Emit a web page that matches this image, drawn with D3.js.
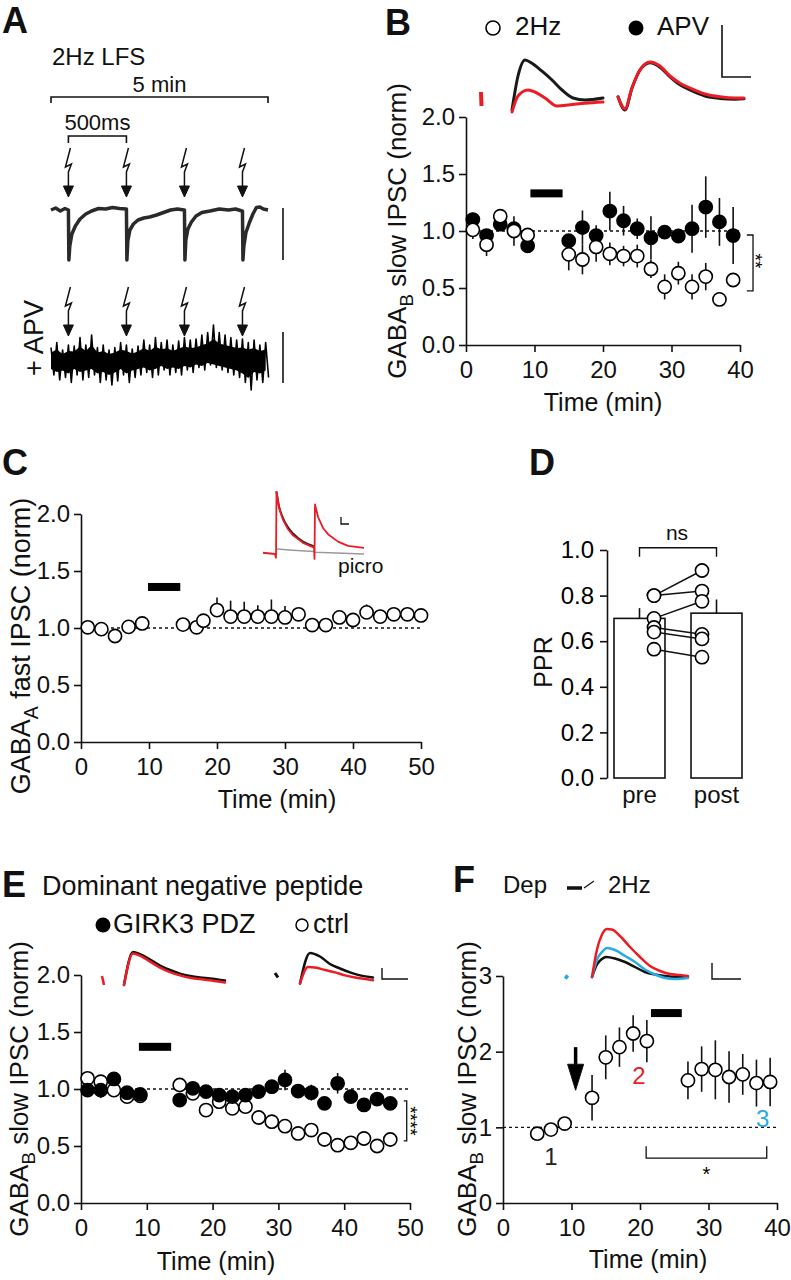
<!DOCTYPE html>
<html><head><meta charset="utf-8">
<script src="https://cdn.jsdelivr.net/npm/d3@7"></script>
<style>body{margin:0;background:#fff}svg{display:block}</style>
</head><body><svg id="c" width="791" height="1280"></svg>
<script>
// ---------- DATA ----------
// Panel A (example traces; time in s, current in norm units)
const aStim = [0, 0.5, 1.0, 1.5];
const aTrace = [[-0.15,0.0],[-0.11,0.04],[-0.07,-0.02],[-0.03,0.03],[0.0,0.0],[0.004,-1.0],[0.012,-0.72],[0.03,-0.48],[0.06,-0.32],[0.1,-0.18],[0.15,-0.08],[0.2,-0.02],[0.26,0.03],[0.32,0.02],[0.38,0.05],[0.44,0.03],[0.497,0.02],[0.5,0.02],[0.504,-1.0],[0.512,-0.62],[0.53,-0.4],[0.56,-0.28],[0.6,-0.2],[0.65,-0.16],[0.7,-0.14],[0.76,-0.1],[0.82,-0.05],[0.88,0.0],[0.94,0.02],[0.997,0.0],[1.0,0.0],[1.004,-1.0],[1.012,-0.6],[1.03,-0.38],[1.06,-0.24],[1.1,-0.12],[1.15,-0.05],[1.22,-0.02],[1.3,0.02],[1.38,0.0],[1.44,0.02],[1.497,-0.02],[1.5,-0.02],[1.504,-1.0],[1.512,-0.72],[1.53,-0.45],[1.56,-0.25],[1.59,-0.08],[1.62,0.05],[1.65,0.06],[1.68,0.02],[1.72,0.0]];
const aApvT  = [-0.15,-0.10,-0.05,0.00,0.05,0.10,0.15,0.20,0.25,0.30,0.35,0.40,0.45,0.50,0.55,0.60,0.65,0.70,0.75,0.80,0.85,0.90,0.95,1.00,1.05,1.10,1.15,1.20,1.25,1.30,1.35,1.40,1.45,1.50,1.55,1.60,1.65,1.70];
const aApvHi = [0.25,0.35,0.2,0.3,0.28,0.45,0.3,0.5,0.25,0.3,0.2,0.25,0.35,0.3,0.22,0.28,0.4,0.3,0.45,0.35,0.4,0.3,0.38,0.45,0.4,0.42,0.5,0.55,0.7,0.55,0.5,0.45,0.4,0.42,0.35,0.4,0.3,0.35];
const aApvLo = [-0.3,-0.4,-0.35,-0.45,-0.3,-0.4,-0.35,-0.3,-0.45,-0.4,-0.5,-0.42,-0.3,-0.45,-0.35,-0.3,-0.25,-0.35,-0.3,-0.2,-0.3,-0.25,-0.3,-0.2,-0.25,-0.15,-0.2,-0.1,-0.15,-0.2,-0.25,-0.3,-0.35,-0.45,-0.6,-0.4,-0.45,-0.35];

// Panel B
const bTime = [1,3,5,7,9,15,17,19,21,23,25,27,29,31,33,35,37,39];
const bApv = [1.10,0.96,1.06,1.02,0.87,0.915,1.03,0.96,1.175,1.09,1.02,0.94,0.99,0.956,1.02,1.21,1.08,0.96];
const bApvErr = [0.06,0.03,0.03,0.05,0.03,0.04,0.15,0.09,0.17,0.13,0.09,0.19,0.05,0.05,0.21,0.27,0.21,0.25];
const b2Hz = [1.01,0.88,1.13,1.0,0.965,0.795,0.75,0.86,0.80,0.78,0.78,0.667,0.51,0.63,0.51,0.60,0.40,0.57];
const b2HzErr = [0.08,0.1,0.03,0.13,0.03,0.14,0.13,0.13,0.10,0.09,0.1,0.08,0.11,0.1,0.11,0.12,0.03,0.04];
const bBar = [9.4, 14.1, 1.33];
const bXTicks = [0,10,20,30,40];
const bYTicks = [0,0.5,1,1.5,2];
const bSig = [41.9, 41.0, 0.965, 0.474];
const bInsetBlack1 = [[42,-0.25],[48,0.6],[55,1.0],[62,0.92],[72,0.72],[82,0.5],[92,0.25],[103,0.05],[115,0.0],[133,0.05]];
const bInsetRed1 = [[42,-0.3],[48,0.1],[58,0.25],[65,0.2],[75,0.05],[87,-0.15],[100,-0.12],[115,-0.08],[133,-0.05]];
const bInsetRedBlob = [[11,0.2],[11.5,-0.15]];
const bInsetBlack2 = [[148,0.08],[155,-0.25],[162,0.3],[170,0.75],[180,0.93],[190,0.82],[200,0.58],[210,0.38],[220,0.25],[235,0.1],[250,0.04],[265,0.02],[274,0.03]];
const bInsetRed2 = [[148,0.08],[155,-0.22],[162,0.3],[170,0.75],[180,0.95],[190,0.85],[200,0.6],[210,0.42],[220,0.3],[235,0.15],[250,0.08],[265,0.05],[274,0.05]];

// Panel C
const cTime = [1,3,5,7,9,15,17,18,20,22,24,26,28,30,32,34,36,38,40,42,44,46,48,50];
const cVal = [1.006,0.99,0.93,1.01,1.04,1.03,1.006,1.064,1.157,1.10,1.10,1.10,1.10,1.093,1.12,1.026,1.026,1.093,1.07,1.137,1.10,1.12,1.12,1.11];
const cErr = [0.02,0.02,0.02,0.02,0.02,0.02,0.03,0.03,0.11,0.14,0.13,0.10,0.15,0.10,0.03,0.02,0.02,0.03,0.03,0.07,0.06,0.03,0.03,0.03];
const cBar = [9.85, 14.6, 1.36];
const cXTicks = [0,10,20,30,40,50];
const cYTicks = [0,0.5,1,1.5,2];
const cInsetRed = [[0,0.02],[12,0.0],[13,-0.06],[13.5,1.0],[16,0.75],[20,0.55],[25,0.4],[30,0.3],[40,0.18],[50,0.11],[51,0.1],[51.5,-0.08],[52,0.8],[55,0.6],[60,0.42],[65,0.32],[75,0.2],[85,0.13],[101,0.1]];
const cInsetBlack = [[13.5,1.0],[16,0.77],[20,0.58],[25,0.43],[30,0.33],[40,0.2],[50,0.13]];
const cInsetGrey = [[14,0.08],[30,0.06],[51,0.04],[52,0.03],[101,0.0]];

// Panel D
const dCats = ["pre","post"];
const dMean = [0.70, 0.723];
const dErr = [0.045, 0.06];
const dPre = [0.80,0.80,0.70,0.66,0.64,0.565];
const dPost = [0.91,0.82,0.775,0.63,0.61,0.53];
const dYTicks = [0,0.2,0.4,0.6,0.8,1.0];

// Panel E
const eTime = [1,3,5,7,9,15,17,19,21,23,25,27,29,31,33,35,37,39,41,43,45,47];
const eGirk = [0.99,0.99,1.088,0.968,0.953,0.903,1.006,0.977,0.947,0.933,0.947,0.977,1.02,1.079,0.982,0.968,0.874,1.05,0.933,0.86,0.912,0.874];
const eGirkErr = [0.04,0.07,0.03,0.03,0.03,0.02,0.04,0.05,0.03,0.03,0.03,0.02,0.02,0.09,0.03,0.07,0.02,0.09,0.03,0.06,0.03,0.02];
const eCtrl = [1.094,1.064,0.99,0.933,0.94,1.035,0.962,0.815,0.889,0.83,0.845,0.75,0.713,0.674,0.61,0.64,0.557,0.507,0.528,0.566,0.50,0.557];
const eCtrlErr = [0.03,0.04,0.02,0.02,0.02,0.02,0.02,0.02,0.02,0.02,0.02,0.02,0.02,0.02,0.02,0.02,0.02,0.02,0.02,0.02,0.02,0.02];
const eBar = [8.8, 13.7, 1.37];
const eXTicks = [0,10,20,30,40,50];
const eYTicks = [0,0.5,1,1.5,2];
const eSig = [49.5, 49.05, 0.895, 0.545];
const eInsetBlack1 = [[24,-0.1],[33,1.0],[40,0.93],[50,0.75],[60,0.55],[70,0.4],[80,0.28],[90,0.2],[100,0.15],[110,0.12],[125,0.05]];
const eInsetRed1 = [[24,-0.1],[33,0.95],[40,0.88],[50,0.68],[60,0.48],[70,0.33],[80,0.22],[90,0.14],[100,0.1],[110,0.06],[125,-0.02]];
const eInsetBlob1 = [[2,0.2],[4,-0.1]];
const eInsetBlack2 = [[200,-0.05],[210,0.97],[220,0.85],[230,0.6],[240,0.45],[250,0.32],[260,0.22],[273,0.15]];
const eInsetRed2 = [[200,-0.05],[208,0.5],[215,0.48],[225,0.4],[235,0.32],[245,0.22],[255,0.15],[265,0.1],[273,0.06]];
const eInsetBlob2 = [[175,0.3],[178,0.15]];

// Panel F
const fTime = [5,7,9,13,15,17,19,21,27,29,31,33,35,37,39];
const fVal = [0.916,0.97,1.05,1.39,1.925,2.06,2.24,2.14,1.62,1.77,1.76,1.665,1.70,1.585,1.60];
const fErr = [0.02,0.02,0.02,0.3,0.29,0.26,0.24,0.28,0.25,0.3,0.39,0.34,0.27,0.31,0.32];
const fBar = [21.6, 26.1, 2.51];
const fXTicks = [0,10,20,30,40];
const fYTicks = [0,1,2,3];
const fArrow = [10.6, 2.06, 1.49];
const fSig = [20.9, 38.5, 0.594, 0.75];
const fMarks = [["1",7.0,0.5,"#222"],["2",19.85,1.57,"#e31e24"],["3",37.9,1.0,"#29abe2"]];
const fInsetBlack = [[32,0],[37,0.25],[42,0.36],[46,0.4],[55,0.37],[65,0.3],[75,0.2],[85,0.1],[95,0.05],[105,0.02],[115,0.0],[128,0.0]];
const fInsetCyan = [[32,0],[37,0.35],[42,0.5],[47,0.58],[55,0.54],[65,0.42],[75,0.3],[85,0.15],[95,0.05],[105,-0.02],[115,-0.04],[128,-0.02]];
const fInsetRed = [[32,0],[37,0.55],[42,0.85],[47,0.96],[52,0.95],[60,0.82],[70,0.6],[80,0.4],[90,0.22],[100,0.12],[110,0.06],[120,0.04],[128,0.02]];
const fInsetBlob = [[5,0.02],[8,-0.02]];

// ---------- DRAWING ----------
const FONT = "'Liberation Sans', Arial, Helvetica, sans-serif";
const RED = "#ec1c24", CYAN = "#29abe2";
const svg = d3.select("#c").attr("font-family", FONT);

function text(x, y, s, size, opts = {}) {
  const t = svg.append("text").attr("x", x).attr("y", y).attr("font-size", size)
    .attr("fill", opts.fill || "#111").text(s);
  if (opts.anchor) t.attr("text-anchor", opts.anchor);
  if (opts.bold) t.attr("font-weight", "bold");
  if (opts.rot !== undefined) t.attr("x", 0).attr("y", 0).attr("transform", `translate(${x},${y}) rotate(${opts.rot})`);
  return t;
}
function yTitle(x, cy, main, sub, rest, size) {
  const t = svg.append("text").attr("transform", `translate(${x},${cy}) rotate(-90)`)
    .attr("text-anchor", "middle").attr("font-size", size).attr("fill", "#111");
  t.append("tspan").text(main);
  if (sub) {
    t.append("tspan").attr("font-size", size * 0.72).attr("dy", size * 0.28).text(sub);
    t.append("tspan").attr("dy", -size * 0.28).text(rest);
  }
  return t;
}
function axes(x, y, xt, yt, xf, yf) {
  const gx = svg.append("g").attr("transform", `translate(0,${y.range()[0]})`)
    .call(d3.axisBottom(x).tickValues(xt).tickSize(7).tickSizeOuter(0).tickPadding(9).tickFormat(d3.format(xf)));
  const gy = svg.append("g").attr("transform", `translate(${x.range()[0]},0)`)
    .call(d3.axisLeft(y).tickValues(yt).tickSize(7).tickSizeOuter(0).tickPadding(4).tickFormat(d3.format(yf)));
  [gx, gy].forEach(g => {
    g.attr("font-size", 24).attr("font-family", FONT);
    g.selectAll("path,line").attr("stroke", "#111").attr("stroke-width", 1.6);
    g.selectAll("text").attr("fill", "#111");
  });
}
function dotted(x, y, level) {
  svg.append("line").attr("x1", x.range()[0]).attr("x2", x.range()[1])
    .attr("y1", y(level)).attr("y2", y(level)).attr("stroke", "#111")
    .attr("stroke-width", 1.4).attr("stroke-dasharray", "3,3");
}
function stimBar(x, y, b) {
  svg.append("rect").attr("x", x(b[0])).attr("width", x(b[1]) - x(b[0]))
    .attr("y", y(b[2]) - 4).attr("height", 8).attr("fill", "#000");
}
function errBars(x, y, xs, vs, es, upOnly) {
  svg.append("g").selectAll("line").data(xs).join("line")
    .attr("x1", d => x(d)).attr("x2", d => x(d))
    .attr("y1", (d, i) => y(upOnly ? vs[i] : vs[i] - es[i]))
    .attr("y2", (d, i) => y(vs[i] + es[i]))
    .attr("stroke", "#111").attr("stroke-width", 1.6);
}
function dots(x, y, xs, vs, filled, r = 6.6) {
  svg.append("g").selectAll("circle").data(xs).join("circle")
    .attr("cx", d => x(d)).attr("cy", (d, i) => y(vs[i])).attr("r", r)
    .attr("fill", filled ? "#000" : "#fff").attr("stroke", "#000").attr("stroke-width", 1.6);
}
function trace(x, y, pts, color, w) {
  svg.append("path").attr("d", d3.line().x(d => x(d[0])).y(d => y(d[1])).curve(d3.curveMonotoneX)(pts))
    .attr("fill", "none").attr("stroke", color).attr("stroke-width", w)
    .attr("stroke-linejoin", "round").attr("stroke-linecap", "round");
}
function traceLin(x, y, pts, color, w) {
  svg.append("path").attr("d", d3.line().x(d => x(d[0])).y(d => y(d[1]))(pts))
    .attr("fill", "none").attr("stroke", color).attr("stroke-width", w).attr("stroke-linejoin", "round");
}
function path(d, w = 1.6, fill = "none") {
  svg.append("path").attr("d", d).attr("stroke", "#111").attr("stroke-width", w).attr("fill", fill);
}
// rotated asterisk string: glyph centre lands at (cx, cy)
function stars(cx, cy, s, size) {
  svg.append("text").attr("transform", `translate(${cx - size * 0.575},${cy}) rotate(90)`)
    .attr("text-anchor", "middle").attr("font-size", size).attr("fill", "#000").text(s);
}

// ===== Panel A =====
text(2, 33, "A", 36, { bold: true });
text(52, 65, "2Hz LFS", 24);
const ax = d3.scaleLinear([-0.15, 1.72], [51, 268]);
const ayTop = d3.scaleLinear([-1, 0], [260, 210]);
const ayApv = d3.scaleLinear([-1, 0], [410, 360]);
text((ax(-0.15) + ax(1.72)) / 2, 92, "5 min", 22, { anchor: "middle" });
path(`M${ax(-0.15)},103V97H${ax(1.72)}V103`);
text((ax(aStim[0]) + ax(aStim[1])) / 2, 130, "500ms", 22, { anchor: "middle" });
path(`M${ax(aStim[0])},143V136H${ax(aStim[1])}V143`);
function bolt(x, top) {
  path(`M${x + 2},${top}L${x - 3},${top + 19}L${x + 3},${top + 16}L${x},${top + 24}V${top + 39}`, 1.5);
  path(`M${x - 5},${top + 38}L${x + 5},${top + 38}L${x},${top + 49}Z`, 1, "#111");
}
aStim.forEach(s => { bolt(ax(s), 148); bolt(ax(s), 287); });
traceLin(ax, ayTop, aTrace, "#2a2a2a", 3.5);
svg.append("path").attr("d", d3.area().x((d, i) => ax(aApvT[i]))
    .y0((d, i) => ayApv(aApvLo[i] * 0.6)).y1((d, i) => ayApv(aApvHi[i] * 0.6))(aApvT))
  .attr("fill", "#000");
const zig = [];
aApvT.forEach((t, i) => { zig.push([t, aApvHi[i]]); zig.push([t + 0.025, aApvLo[i]]); });
traceLin(ax, ayApv, zig, "#000", 1.6);
path("M283,208V260");
path("M283,332V383");
text(43, 338, "+ APV", 27, { anchor: "middle", rot: -90 });

// ===== Panel B =====
text(385, 35, "B", 36, { bold: true });
svg.append("circle").attr("cx", 493).attr("cy", 28).attr("r", 7).attr("fill", "#fff").attr("stroke", "#000").attr("stroke-width", 1.6);
text(515, 35, "2Hz", 26);
svg.append("circle").attr("cx", 636).attr("cy", 28).attr("r", 7.5).attr("fill", "#000");
text(657, 35, "APV", 26);
const bix = d3.scaleLinear([0, 300], [470, 770]);
const biy = d3.scaleLinear([0, 1], [100, 60]);
trace(bix, biy, bInsetBlack1, "#1a1a1a", 3);
trace(bix, biy, bInsetRed1, RED, 3);
traceLin(bix, biy, bInsetRedBlob, RED, 4);
trace(bix, biy, bInsetBlack2, "#1a1a1a", 3);
trace(bix, biy, bInsetRed2, RED, 3);
path("M722,25V77H751");

const xB = d3.scaleLinear([0, 40], [466, 740]);
const yB = d3.scaleLinear([0, 2], [345, 117]);
axes(xB, yB, bXTicks, bYTicks, "d", ".1f");
dotted(xB, yB, 1);
stimBar(xB, yB, bBar);
errBars(xB, yB, bTime, bApv, bApvErr, false);
errBars(xB, yB, bTime, b2Hz, b2HzErr, false);
dots(xB, yB, bTime, bApv, true);
dots(xB, yB, bTime, b2Hz, false);
path(`M${xB(bSig[1])},${yB(bSig[2])}H${xB(bSig[0])}V${yB(bSig[3])}H${xB(bSig[1])}`, 1.3);
stars(xB(bSig[0]) + 7, (yB(bSig[2]) + yB(bSig[3])) / 2 - 2, "**", 19);
yTitle(406, 231, "GABA", "B", " slow IPSC (norm)", 26);
text(603, 411, "Time (min)", 25, { anchor: "middle" });

// ===== Panel C =====
text(2, 475, "C", 36, { bold: true });
const cix = d3.scaleLinear([0, 101], [263, 364]);
const ciy = d3.scaleLinear([0, 1], [554, 492]);
traceLin(cix, ciy, cInsetGrey, "#9a9a9a", 1.5);
trace(cix, ciy, cInsetBlack, "#222", 2);
traceLin(cix, ciy, cInsetRed, RED, 1.8);
path("M341,517V524H349", 1.3);
text(338, 573, "picro", 21);
const xC = d3.scaleLinear([0, 50], [81, 421]);
const yC = d3.scaleLinear([0, 2], [742, 514]);
axes(xC, yC, cXTicks, cYTicks, "d", ".1f");
dotted(xC, yC, 1);
stimBar(xC, yC, cBar);
errBars(xC, yC, cTime, cVal, cErr, true);
dots(xC, yC, cTime, cVal, false);
yTitle(30, 646, "GABA", "A", " fast IPSC (norm)", 27);
text(277, 808, "Time (min)", 25, { anchor: "middle" });

// ===== Panel D =====
text(529, 475, "D", 36, { bold: true });
const xD = d3.scaleBand(dCats, [607, 749]).paddingInner(0.338).paddingOuter(0.091);
const yD = d3.scaleLinear([0, 1], [778, 550]);
const gyD = svg.append("g").attr("transform", "translate(607,0)")
  .call(d3.axisLeft(yD).tickValues(dYTicks).tickSize(7).tickSizeOuter(0).tickPadding(6).tickFormat(d3.format(".1f")));
gyD.attr("font-size", 24).attr("font-family", FONT);
gyD.selectAll("path,line").attr("stroke", "#111").attr("stroke-width", 1.6);
const cxD = c => xD(c) + xD.bandwidth() / 2;
svg.append("g").selectAll("line").data(dCats).join("line")
  .attr("x1", cxD).attr("x2", cxD).attr("y1", (d, i) => yD(dMean[i])).attr("y2", (d, i) => yD(dMean[i] + dErr[i]))
  .attr("stroke", "#111").attr("stroke-width", 1.6);
svg.append("g").selectAll("rect").data(dCats).join("rect")
  .attr("x", d => xD(d)).attr("width", xD.bandwidth())
  .attr("y", (d, i) => yD(dMean[i])).attr("height", (d, i) => yD(0) - yD(dMean[i]))
  .attr("fill", "#fff").attr("stroke", "#111").attr("stroke-width", 1.6);
const preX = cxD("pre") + 14.5, postX = cxD("post") - 14.5;
svg.append("g").selectAll("line").data(dPre).join("line")
  .attr("x1", preX).attr("x2", postX).attr("y1", d => yD(d)).attr("y2", (d, i) => yD(dPost[i]))
  .attr("stroke", "#111").attr("stroke-width", 1.5);
[[preX, dPre], [postX, dPost]].forEach(([px, vals]) => {
  svg.append("g").selectAll("circle").data(vals).join("circle")
    .attr("cx", px).attr("cy", d => yD(d)).attr("r", 6.6)
    .attr("fill", "#fff").attr("stroke", "#000").attr("stroke-width", 1.6);
});
path(`M${cxD("pre")},${yD(1.01) + 9}V${yD(1.01)}H${cxD("post")}V${yD(1.01) + 9}`, 1.4);
text((cxD("pre") + cxD("post")) / 2 - 1, 540, "ns", 21, { anchor: "middle" });
dCats.forEach(c => text(cxD(c), 803, c, 24, { anchor: "middle" }));
text(552, 662, "PPR", 25, { anchor: "middle", rot: -90 });

// ===== Panel E =====
text(2, 897, "E", 36, { bold: true });
text(42, 895, "Dominant negative peptide", 27);
svg.append("circle").attr("cx", 103).attr("cy", 925).attr("r", 7.5).attr("fill", "#000");
text(113, 933, "GIRK3 PDZ", 27);
svg.append("circle").attr("cx", 302).attr("cy", 925).attr("r", 6).attr("fill", "#fff").attr("stroke", "#000").attr("stroke-width", 1.5);
text(313, 933, "ctrl", 27);
const eix = d3.scaleLinear([0, 310], [100, 410]);
const eiy = d3.scaleLinear([0, 1], [982, 952]);
trace(eix, eiy, eInsetBlack1, "#111", 2.5);
trace(eix, eiy, eInsetRed1, RED, 2.5);
traceLin(eix, eiy, eInsetBlob1, RED, 2.5);
traceLin(eix, eiy, eInsetBlob2, "#111", 3);
trace(eix, eiy, eInsetBlack2, "#111", 2.5);
trace(eix, eiy, eInsetRed2, RED, 2.5);
path("M382,968V979H408", 1.4);
const xE = d3.scaleLinear([0, 50], [81, 410]);
const yE = d3.scaleLinear([0, 2], [1203, 975]);
axes(xE, yE, eXTicks, eYTicks, "d", ".1f");
dotted(xE, yE, 1);
stimBar(xE, yE, eBar);
errBars(xE, yE, eTime, eCtrl, eCtrlErr, false);
errBars(xE, yE, eTime, eGirk, eGirkErr, false);
dots(xE, yE, eTime, eCtrl, false);
dots(xE, yE, eTime, eGirk, true);
path(`M${xE(eSig[1])},${yE(eSig[2])}H${xE(eSig[0])}V${yE(eSig[3])}H${xE(eSig[1])}`, 1.3);
stars(xE(eSig[0]) + 8, (yE(eSig[2]) + yE(eSig[3])) / 2, "****", 19);
yTitle(28, 1089, "GABA", "B", " slow IPSC (norm)", 26);
text(216, 1270, "Time (min)", 25, { anchor: "middle" });

// ===== Panel F =====
text(453, 892, "F", 36, { bold: true });
text(503, 893, "Dep", 24);
svg.append("line").attr("x1", 567).attr("x2", 582).attr("y1", 888).attr("y2", 888).attr("stroke", "#111").attr("stroke-width", 3.5);
svg.append("line").attr("x1", 584).attr("x2", 594).attr("y1", 888).attr("y2", 881).attr("stroke", "#111").attr("stroke-width", 1.2);
text(608, 893, "2Hz", 24);
const fix = d3.scaleLinear([0, 130], [560, 690]);
const fiy = d3.scaleLinear([0, 1], [977, 927]);
traceLin(fix, fiy, fInsetBlob, CYAN, 4);
trace(fix, fiy, fInsetBlack, "#111", 2.5);
trace(fix, fiy, fInsetCyan, CYAN, 2.5);
trace(fix, fiy, fInsetRed, RED, 2.5);
path("M712,963V979H741", 1.4);
const xF = d3.scaleLinear([0, 40], [503, 777]);
const yF = d3.scaleLinear([0, 3], [1203, 976]);
axes(xF, yF, fXTicks, fYTicks, "d", "d");
dotted(xF, yF, 1);
stimBar(xF, yF, fBar);
errBars(xF, yF, fTime, fVal, fErr, false);
dots(xF, yF, fTime, fVal, false);
svg.append("line").attr("x1", xF(fArrow[0])).attr("x2", xF(fArrow[0]))
  .attr("y1", yF(fArrow[1])).attr("y2", yF(fArrow[2]) - 20).attr("stroke", "#000").attr("stroke-width", 3.5);
path(`M${xF(fArrow[0]) - 8},${yF(fArrow[2]) - 26}L${xF(fArrow[0]) + 8},${yF(fArrow[2]) - 26}L${xF(fArrow[0])},${yF(fArrow[2])}Z`, 1, "#000");
fMarks.forEach(m => text(xF(m[1]), yF(m[2]), m[0], 24, { anchor: "middle", fill: m[3] }));
path(`M${xF(fSig[0])},${yF(fSig[3])}V${yF(fSig[2])}H${xF(fSig[1])}V${yF(fSig[3])}`, 1.3);
text((xF(fSig[0]) + xF(fSig[1])) / 2, yF(fSig[2]) + 23, "*", 20, { anchor: "middle", fill: "#000" });
yTitle(476, 1089, "GABA", "B", " slow IPSC (norm)", 26);
text(648, 1268, "Time (min)", 25, { anchor: "middle" });
</script></body></html>
